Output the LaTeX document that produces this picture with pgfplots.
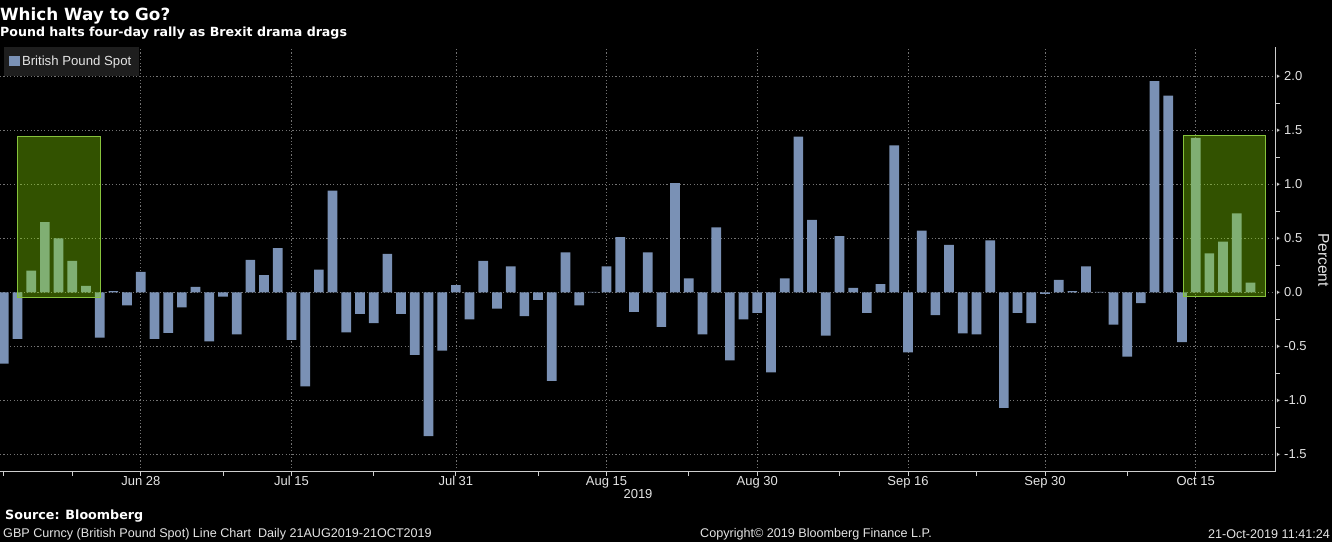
\documentclass[border=0pt]{standalone}
\usepackage{fontspec}
\setmainfont{Liberation Sans}
\newfontfamily\djv{DejaVu Sans}
\usepackage{pgfplots}
\usepackage{pgfplotstable}
\pgfplotsset{compat=1.18}
\definecolor{barblue}{RGB}{122,145,181}
\definecolor{gridgray}{RGB}{115,115,115}
\definecolor{axisgray}{RGB}{205,205,205}
\definecolor{legendbg}{RGB}{30,30,30}
\definecolor{boxgreen}{RGB}{140,230,0}
\definecolor{boxedge}{RGB}{135,195,60}
\definecolor{txt}{RGB}{228,228,228}

\pgfplotstableread{
k v
0 -0.66
1 -0.43
2 0.20
3 0.65
4 0.50
5 0.29
6 0.06
7 -0.42
8 0.012
9 -0.12
10 0.19
11 -0.43
12 -0.375
13 -0.14
14 0.05
15 -0.455
16 -0.04
17 -0.39
18 0.30
19 0.16
20 0.41
21 -0.44
22 -0.87
23 0.21
24 0.94
25 -0.37
26 -0.20
27 -0.285
28 0.356
29 -0.20
30 -0.58
31 -1.33
32 -0.54
33 0.066
34 -0.25
35 0.29
36 -0.15
37 0.24
38 -0.22
39 -0.07
40 -0.82
41 0.37
42 -0.12
43 0.005
44 0.24
45 0.51
46 -0.18
47 0.37
48 -0.32
49 1.01
50 0.13
51 -0.39
52 0.60
53 -0.63
54 -0.25
55 -0.19
56 -0.74
57 0.13
58 1.44
59 0.67
60 -0.40
61 0.52
62 0.04
63 -0.19
64 0.075
65 1.36
66 -0.555
67 0.57
68 -0.21
69 0.44
70 -0.38
71 -0.39
72 0.48
73 -1.07
74 -0.19
75 -0.285
76 -0.015
77 0.115
78 0.01
79 0.24
80 0.004
81 -0.30
82 -0.595
83 -0.10
84 1.955
85 1.82
86 -0.46
87 1.43
88 0.36
89 0.47
90 0.73
91 0.09
}\gbp

\pgfplotstableread{
y x
-1.5 92.84
-1.0 92.84
-0.5 92.84
0.0 92.84
0.5 92.84
1.0 92.84
1.5 92.84
2.0 92.84
}\yticktri

\begin{document}
\begin{tikzpicture}[x=1pt,y=1pt]
\fill[black] (0,0) rectangle (1332,542);
\useasboundingbox (0,0) rectangle (1332,542);
\begin{axis}[
  at={(0pt,70.3pt)}, anchor=south west,
  scale only axis, width=1275.7pt, height=424.7pt,
  xmin=-0.277, xmax=92.84, ymin=-1.66, ymax=2.27,
  axis x line*=bottom, axis y line*=right,
  axis line style={axisgray, line width=1pt},
  clip=false,
  font=\fontsize{13}{15}\selectfont,
  xtick={10,21,33,44,55,66,76,87},
  xticklabels={Jun 28,Jul 15,Jul 31,Aug 15,Aug 30,Sep 16,Sep 30,Oct 15},
  minor xtick={0,5,16,27,39,50,61,71,82},
  ytick={-1.5,-1,-0.5,0,0.5,1,1.5,2},
  yticklabels={-1.5,-1.0,-0.5,0.0,0.5,1.0,1.5,2.0},
  minor ytick={-1.25,-0.75,-0.25,0.25,0.75,1.25,1.75},
  tick align=outside,
  major tick length=4pt, minor tick length=4pt,
  tick style={axisgray, line width=0.8pt},
  major y tick style={draw=none},
  xticklabel style={text=txt, yshift=3pt},
  yticklabel style={text=txt, xshift=1pt},
  xmajorgrids, ymajorgrids,
  major grid style={gridgray, line width=0.7pt, dash pattern=on 1.2pt off 2.2pt},
  ylabel={Percent},
  ylabel style={at={(axis description cs:1.0375,0.4985)}, anchor=center, rotate=180, text=txt, font=\fontsize{15.5}{17}\selectfont},
  legend style={at={(axis description cs:0.0026,1)}, anchor=north west, fill=legendbg, draw=none, text=txt,
     font=\fontsize{13.2}{15}\selectfont, inner xsep=5.5pt, inner ysep=7pt},
  legend image code/.code={\fill[barblue] (0pt,-4.5pt) rectangle (11pt,6pt);},
]
\addplot[ybar, bar width=9.7pt, bar shift=0pt, fill=barblue, draw=none] table[x=k, y=v] {\gbp};
\addlegendentry{British Pound Spot}
\addplot[forget plot, only marks, mark=triangle*, mark size=2.6pt,
  mark options={xshift=2.2pt, rotate=-90, fill=axisgray, draw=none}] table[x=x, y=y] {\yticktri};
\fill[boxgreen, fill opacity=0.36] (axis cs:1.01,-0.044) rectangle (axis cs:7.07,1.446);
\draw[boxedge, line width=1pt] (axis cs:1.01,-0.044) rectangle (axis cs:7.07,1.446);
\fill[boxgreen, fill opacity=0.36] (axis cs:86.1,-0.039) rectangle (axis cs:92.13,1.455);
\draw[boxedge, line width=1pt] (axis cs:86.1,-0.039) rectangle (axis cs:92.13,1.455);
\end{axis}
\node[anchor=base west, inner sep=0pt, text=white] at (0,521) {\djv\bfseries\fontsize{16.8}{19}\selectfont Which Way to Go?};
\node[anchor=base west, inner sep=0pt, text=white] at (0,505.3) {\djv\bfseries\fontsize{12.6}{14}\selectfont Pound halts four-day rally as Brexit drama drags};
\node[anchor=center, inner sep=0pt, text=txt] at (638,48) {\fontsize{13}{15}\selectfont 2019};
\node[anchor=west, inner sep=0pt, text=white] at (5,26) {\djv\bfseries\fontsize{12.7}{14}\selectfont Source: Bloomberg};
\node[anchor=west, inner sep=0pt, text=txt] at (3,8) {\fontsize{12.6}{14}\selectfont GBP Curncy (British Pound Spot) Line Chart\ \ Daily 21AUG2019-21OCT2019};
\node[anchor=west, inner sep=0pt, text=txt] at (700,8) {\fontsize{12.6}{14}\selectfont Copyright\textcopyright\ 2019 Bloomberg Finance L.P.};
\node[anchor=east, inner sep=0pt, text=txt] at (1330,8) {\fontsize{12.6}{14}\selectfont 21-Oct-2019 11:41:24};
\end{tikzpicture}
\end{document}
